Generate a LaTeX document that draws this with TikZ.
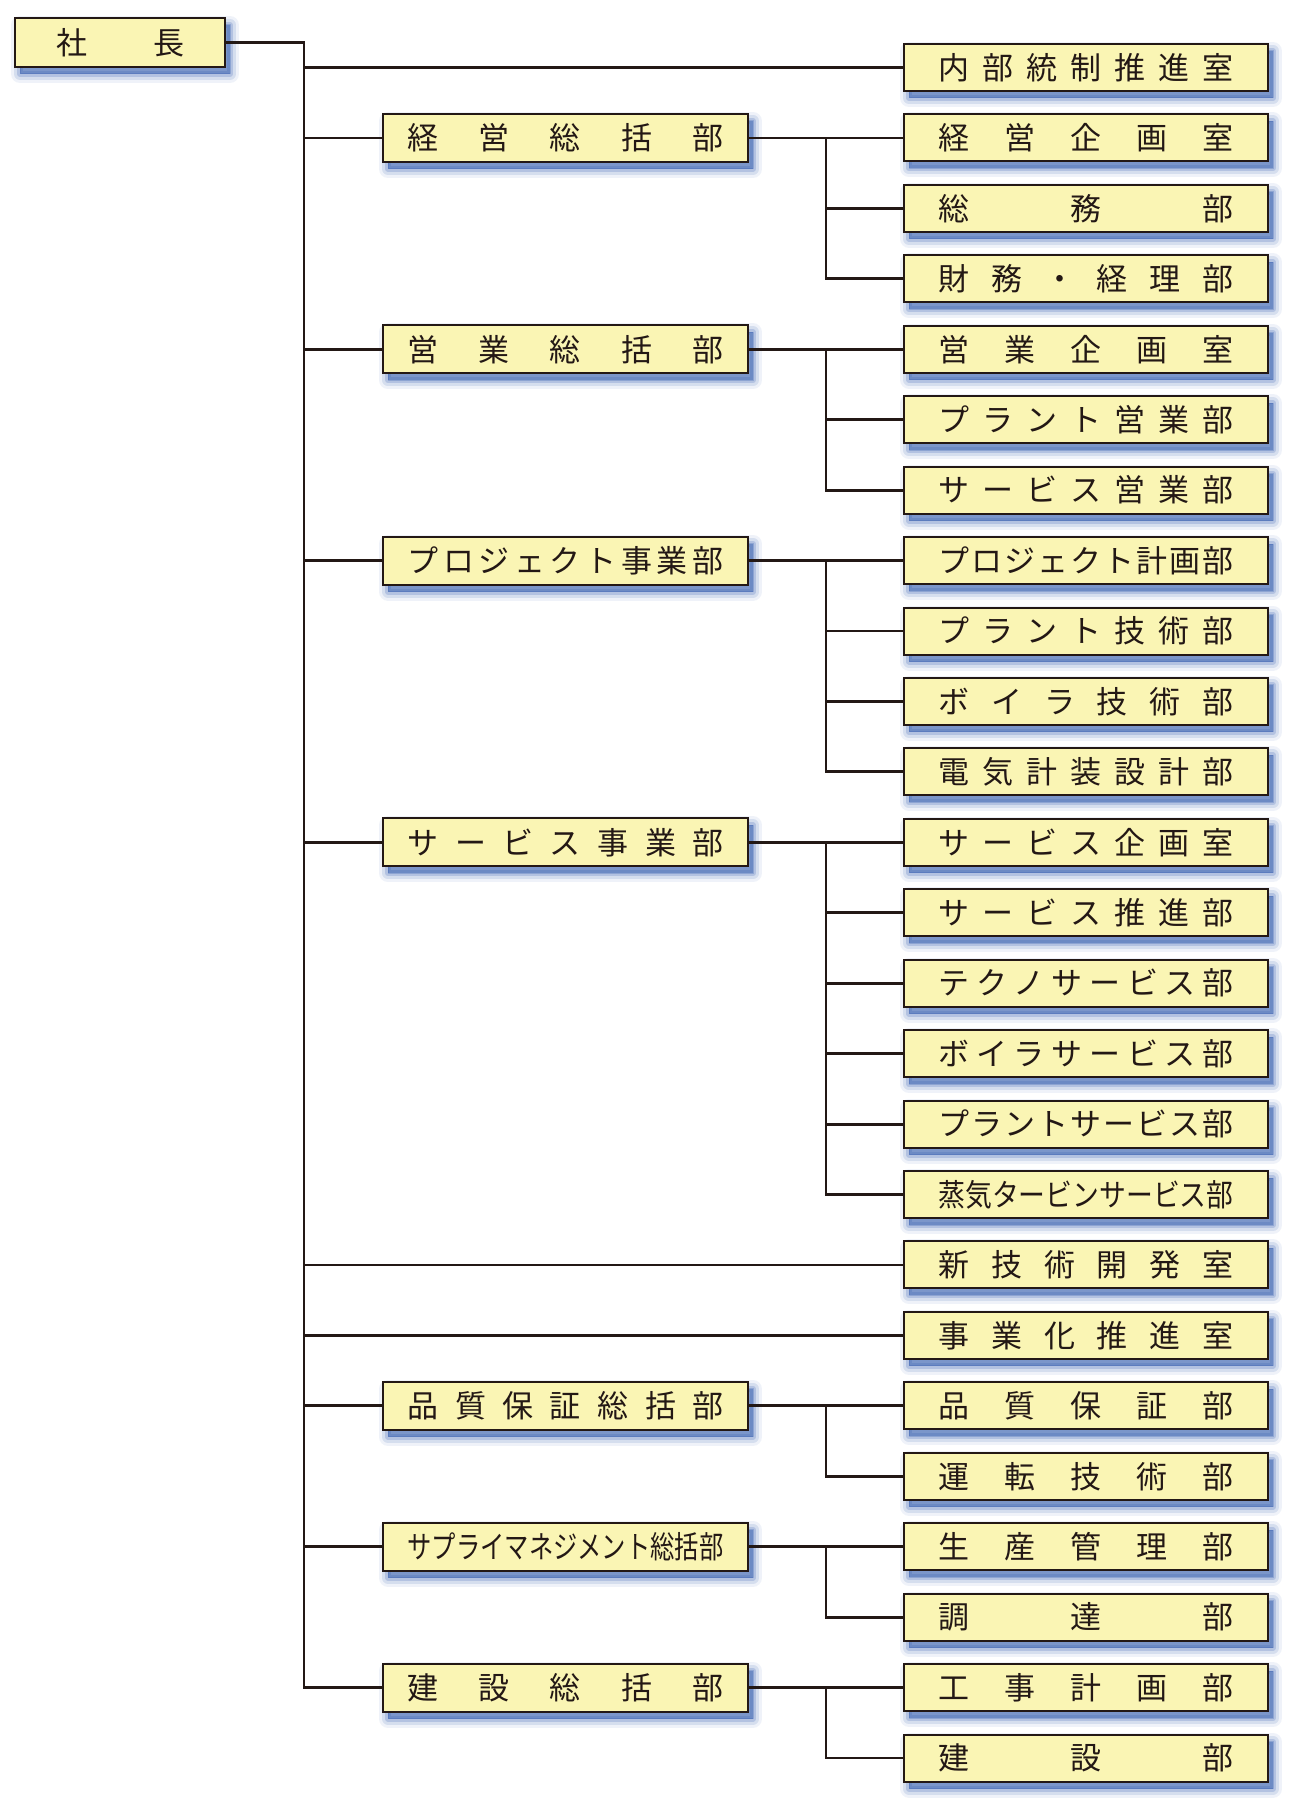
\documentclass[tikz,border=0pt]{standalone}
\usepackage{fontspec}
\usepackage{graphicx}
\setmainfont{Noto Sans CJK JP}
\definecolor{boxfill}{RGB}{250,245,180}
\definecolor{inkline}{RGB}{35,24,21}
\definecolor{shadowblue}{RGB}{55,95,175}
\newcommand{\spread}[2]{\makebox[#1][s]{\spaceskip=0pt plus 1fil\relax #2}}
\newcommand{\squeeze}[2]{\resizebox{#1}{\height}{#2}}
\tikzset{
  glow/.style={
    preaction={draw=shadowblue, fill=shadowblue, line width=9pt, line join=round, opacity=0.08, transform canvas={shift={(2.5pt,-3.5pt)}}},
    preaction={draw=shadowblue, fill=shadowblue, line width=6pt, line join=round, opacity=0.14, transform canvas={shift={(2.5pt,-3.5pt)}}},
    preaction={draw=shadowblue, fill=shadowblue, line width=3pt, line join=round, opacity=0.22, transform canvas={shift={(2.5pt,-3.5pt)}}},
    preaction={draw=shadowblue, fill=shadowblue, line width=0.5pt, line join=round, opacity=0.3, transform canvas={shift={(2.5pt,-3.5pt)}}}},
  unit/.style={draw=inkline, line width=1pt, fill=boxfill, inner sep=0pt, text=inkline, font=\fontsize{15.5pt}{18pt}\selectfont, glow},
  topbox/.style={unit, minimum width=105pt, minimum height=24.5pt},
  headbox/.style={unit, minimum width=182.5pt, minimum height=24pt},
  deptbox/.style={unit, minimum width=182pt, minimum height=23.5pt},
  link/.style={draw=inkline, line width=1.4pt}
}
\begin{document}
\begin{tikzpicture}[x=0.5pt, y=-35.22pt]
\useasboundingbox (0,-0.958) rectangle (1296,24.638);

\node[topbox] (ceo) at (120,-0.355) {\spread{64pt}{社 長}};

\node[headbox] (keiei) at (565.5,1) {\spread{158pt}{経 営 総 括 部}};
\node[headbox] (eigyo) at (565.5,4) {\spread{158pt}{営 業 総 括 部}};
\node[headbox] (pj) at (565.5,7) {\spread{158pt}{プ ロ ジ ェ ク ト 事 業 部}};
\node[headbox] (sv) at (565.5,11) {\spread{158pt}{サ ー ビ ス 事 業 部}};
\node[headbox] (hinshitsu) at (565.5,19) {\spread{158pt}{品 質 保 証 総 括 部}};
\node[headbox] (supply) at (565.5,21) {\squeeze{158pt}{サプライマネジメント総括部}};
\node[headbox] (kensetsu) at (565.5,23) {\spread{158pt}{建 設 総 括 部}};

\node[deptbox] (r0) at (1086,0) {\spread{147.5pt}{内 部 統 制 推 進 室}};
\node[deptbox] (r1) at (1086,1) {\spread{147.5pt}{経 営 企 画 室}};
\node[deptbox] (r2) at (1086,2) {\spread{147.5pt}{総 務 部}};
\node[deptbox] (r3) at (1086,3) {\spread{147.5pt}{財 務 ・ 経 理 部}};
\node[deptbox] (r4) at (1086,4) {\spread{147.5pt}{営 業 企 画 室}};
\node[deptbox] (r5) at (1086,5) {\spread{147.5pt}{プ ラ ン ト 営 業 部}};
\node[deptbox] (r6) at (1086,6) {\spread{147.5pt}{サ ー ビ ス 営 業 部}};
\node[deptbox] (r7) at (1086,7) {\spread{147.5pt}{プ ロ ジ ェ ク ト 計 画 部}};
\node[deptbox] (r8) at (1086,8) {\spread{147.5pt}{プ ラ ン ト 技 術 部}};
\node[deptbox] (r9) at (1086,9) {\spread{147.5pt}{ボ イ ラ 技 術 部}};
\node[deptbox] (r10) at (1086,10) {\spread{147.5pt}{電 気 計 装 設 計 部}};
\node[deptbox] (r11) at (1086,11) {\spread{147.5pt}{サ ー ビ ス 企 画 室}};
\node[deptbox] (r12) at (1086,12) {\spread{147.5pt}{サ ー ビ ス 推 進 部}};
\node[deptbox] (r13) at (1086,13) {\spread{147.5pt}{テ ク ノ サ ー ビ ス 部}};
\node[deptbox] (r14) at (1086,14) {\spread{147.5pt}{ボ イ ラ サ ー ビ ス 部}};
\node[deptbox] (r15) at (1086,15) {\spread{147.5pt}{プ ラ ン ト サ ー ビ ス 部}};
\node[deptbox] (r16) at (1086,16) {\squeeze{147.5pt}{蒸気タービンサービス部}};
\node[deptbox] (r17) at (1086,17) {\spread{147.5pt}{新 技 術 開 発 室}};
\node[deptbox] (r18) at (1086,18) {\spread{147.5pt}{事 業 化 推 進 室}};
\node[deptbox] (r19) at (1086,19) {\spread{147.5pt}{品 質 保 証 部}};
\node[deptbox] (r20) at (1086,20) {\spread{147.5pt}{運 転 技 術 部}};
\node[deptbox] (r21) at (1086,21) {\spread{147.5pt}{生 産 管 理 部}};
\node[deptbox] (r22) at (1086,22) {\spread{147.5pt}{調 達 部}};
\node[deptbox] (r23) at (1086,23) {\spread{147.5pt}{工 事 計 画 部}};
\node[deptbox] (r24) at (1086,24) {\spread{147.5pt}{建 設 部}};

\coordinate (trunk) at (304,0);
\coordinate (sub) at (826,0);

\path[link] (ceo.east) -| (trunk |- kensetsu.west) -- (kensetsu.west);
\path[link] (trunk |- r0.west) -- (r0.west);
\path[link] (trunk |- keiei.west) -- (keiei.west);
\path[link] (trunk |- eigyo.west) -- (eigyo.west);
\path[link] (trunk |- pj.west) -- (pj.west);
\path[link] (trunk |- sv.west) -- (sv.west);
\path[link] (trunk |- r17.west) -- (r17.west);
\path[link] (trunk |- r18.west) -- (r18.west);
\path[link] (trunk |- hinshitsu.west) -- (hinshitsu.west);
\path[link] (trunk |- supply.west) -- (supply.west);

\path[link] (keiei.east) -- (r1.west);
\path[link] (sub |- r1.west) |- (r3.west);
\path[link] (sub |- r2.west) -- (r2.west);

\path[link] (eigyo.east) -- (r4.west);
\path[link] (sub |- r4.west) |- (r6.west);
\path[link] (sub |- r5.west) -- (r5.west);

\path[link] (pj.east) -- (r7.west);
\path[link] (sub |- r7.west) |- (r10.west);
\path[link] (sub |- r8.west) -- (r8.west);
\path[link] (sub |- r9.west) -- (r9.west);

\path[link] (sv.east) -- (r11.west);
\path[link] (sub |- r11.west) |- (r16.west);
\path[link] (sub |- r12.west) -- (r12.west);
\path[link] (sub |- r13.west) -- (r13.west);
\path[link] (sub |- r14.west) -- (r14.west);
\path[link] (sub |- r15.west) -- (r15.west);

\path[link] (hinshitsu.east) -- (r19.west);
\path[link] (sub |- r19.west) |- (r20.west);

\path[link] (supply.east) -- (r21.west);
\path[link] (sub |- r21.west) |- (r22.west);

\path[link] (kensetsu.east) -- (r23.west);
\path[link] (sub |- r23.west) |- (r24.west);
\end{tikzpicture}
\end{document}
